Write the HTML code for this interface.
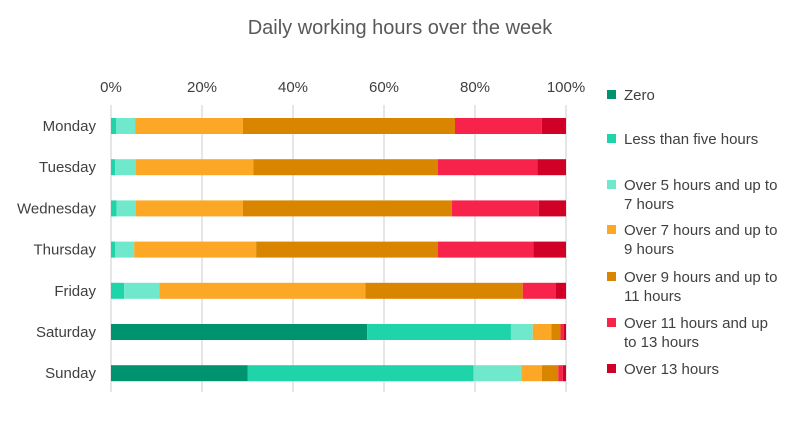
<!DOCTYPE html>
<html><head><meta charset="utf-8"><style>
body{margin:0;background:#fff;font-family:"Liberation Sans",sans-serif}
svg text{font-family:"Liberation Sans",sans-serif;fill:#404040}
</style></head><body>
<svg width="800" height="428" xmlns="http://www.w3.org/2000/svg">
<text x="400" y="34" text-anchor="middle" font-size="20" fill="#595959" style="fill:#595959">Daily working hours over the week</text>
<g id="grid"></g><g id="bars"></g><g id="legend"></g>
</svg>
<script>
const days=["Monday","Tuesday","Wednesday","Thursday","Friday","Saturday","Sunday"];
const seriesNames=["Zero","Less than five hours","Over 5 hours and up to 7 hours","Over 7 hours and up to 9 hours","Over 9 hours and up to 11 hours","Over 11 hours and up to 13 hours","Over 13 hours"];
const zero=[0,0,0,0,0,56.3,30];
const lessFive=[1.1,0.9,1.2,0.95,2.9,31.6,49.7];
const h5to7=[4.2,4.6,4.3,4.15,7.7,4.8,10.5];
const h7to9=[23.7,25.8,23.5,26.8,45.3,4.1,4.5];
const h9to11=[46.6,40.5,45.9,39.9,34.6,2.0,3.6];
const h11to13=[19.1,21.9,19.1,21,7.3,0.7,1.0];
const over13=[5.3,6.3,6.0,7.2,2.2,0.5,0.7];
const ticks=[0,20,40,60,80,100];
const series=[zero,lessFive,h5to7,h7to9,h9to11,h11to13,over13];
const colors=["#009370","#1fd4a8","#6fe8cb","#fca725","#d98500","#f8234a","#d10027"];
const legendLines=[["Zero"],["Less than five hours"],["Over 5 hours and up to","7 hours"],["Over 7 hours and up to","9 hours"],["Over 9 hours and up to","11 hours"],["Over 11 hours and up","to 13 hours"],["Over 13 hours"]];
const legendY=[95,139,185,230,277,323,369];
const NS="http://www.w3.org/2000/svg";
const x0=111,x1=566;
const xs=v=>x0+(x1-x0)*v/100;
const ys=i=>126+i*41.2;
function mk(t,a,p){const e=document.createElementNS(NS,t);for(const k in a)e.setAttribute(k,a[k]);p.appendChild(e);return e;}
const g=document.getElementById("grid");
ticks.forEach(t=>{
 const l=mk("line",{x1:xs(t),x2:xs(t),y1:105,y2:392,stroke:"#d9d9d9","stroke-width":1.3},g);
 
 
 const tx=mk("text",{x:xs(t),y:92,"text-anchor":"middle","font-size":15},g);
 tx.textContent=t+"%";
 
 
});
const b=document.getElementById("bars");
days.forEach((d,i)=>{
 const t=mk("text",{x:96,y:ys(i)+5,"text-anchor":"end","font-size":15},b);
 t.textContent=d;
 
 
 let acc=0;
 series.forEach((s,k)=>{
  const v=s[i];
  const r=mk("rect",{x:xs(acc),y:ys(i)-8,width:Math.max(0,xs(acc+v)-xs(acc)),height:16,fill:colors[k]},b);
  
  
  acc+=v;
 });
});
const lg=document.getElementById("legend");
legendLines.forEach((ls,k)=>{
 const y=legendY[k];
 const r=mk("rect",{x:607,y:y-5,width:9,height:9,fill:colors[k]},lg);
 
 
 ls.forEach((s,j)=>{
  const t=mk("text",{x:624,y:y+5+j*19,"font-size":15},lg);
  t.textContent=s;
  
  
 });
});
</script>
</body></html>
